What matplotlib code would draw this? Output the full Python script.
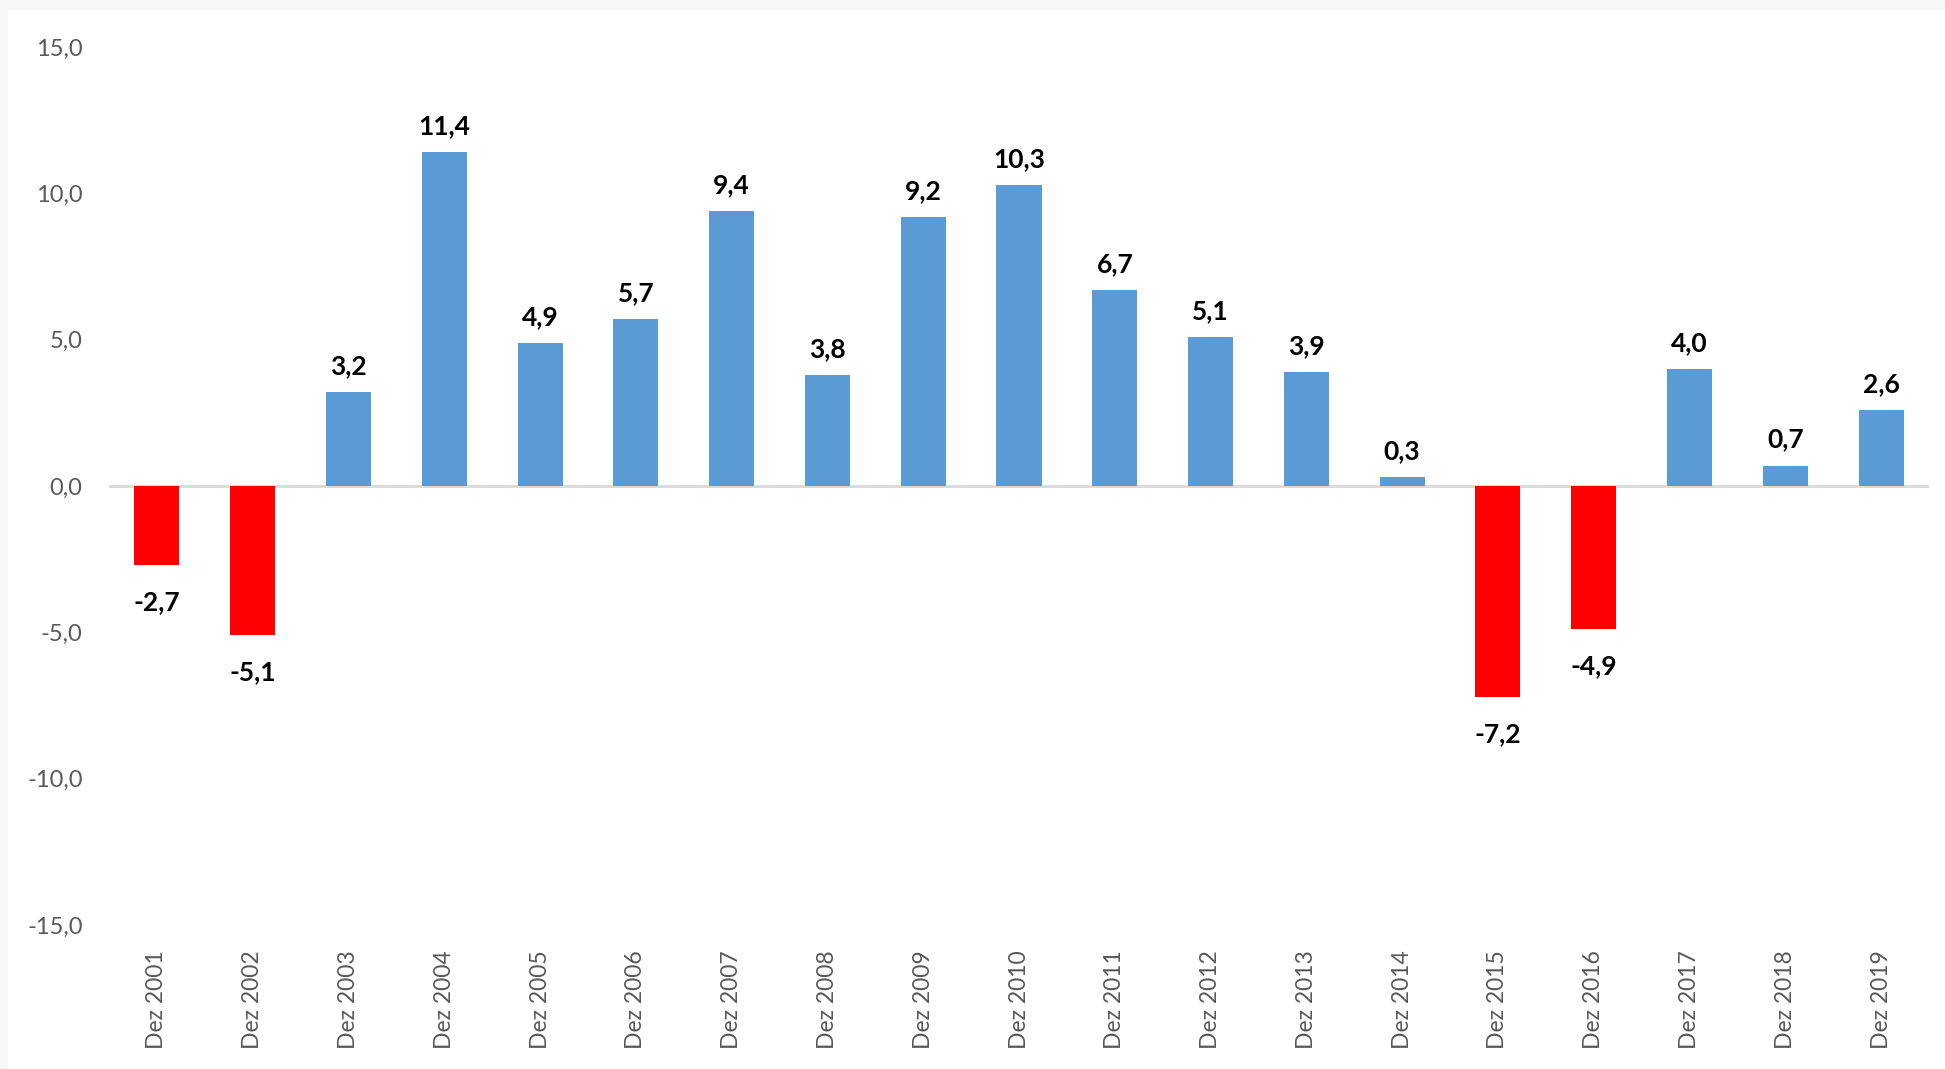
import matplotlib.pyplot as plt
from matplotlib.patches import Rectangle
from matplotlib.ticker import FuncFormatter

# Variação anual (%) - dezembro de cada ano
anos = ["Dez 2001", "Dez 2002", "Dez 2003", "Dez 2004", "Dez 2005", "Dez 2006",
        "Dez 2007", "Dez 2008", "Dez 2009", "Dez 2010", "Dez 2011", "Dez 2012",
        "Dez 2013", "Dez 2014", "Dez 2015", "Dez 2016", "Dez 2017", "Dez 2018",
        "Dez 2019"]
valores = [-2.7, -5.1, 3.2, 11.4, 4.9, 5.7, 9.4, 3.8, 9.2, 10.3, 6.7, 5.1,
           3.9, 0.3, -7.2, -4.9, 4.0, 0.7, 2.6]
yticks = [-15, -10, -5, 0, 5, 10, 15]

AZUL = "#5b9bd5"
VERMELHO = "#ff0000"
CINZA = "#595959"

plt.rcParams["font.family"] = ["Lato", "DejaVu Sans"]


def virgula(v, pos=None):
    return f"{v:.1f}".replace(".", ",")


fig = plt.figure(figsize=(19.45, 10.69), dpi=100, facecolor="#f7f7f7")
fig.patches.append(Rectangle((8 / 1945, 0), 1, 1 - 10 / 1069,
                             transform=fig.transFigure, facecolor="white",
                             edgecolor="none", zorder=-1))

ax = fig.add_axes([109 / 1945, 1 - 925 / 1069, 1820 / 1945, 878 / 1069])
ax.set_facecolor("white")

x = range(len(anos))
cores = [VERMELHO if v < 0 else AZUL for v in valores]
ax.bar(x, valores, width=0.47, color=cores, zorder=2)

# Rótulos de dados
for i, v in enumerate(valores):
    if v >= 0:
        ax.annotate(virgula(v), (i, v), xytext=(0, 10), textcoords="offset points",
                    ha="center", va="bottom", fontsize=19, fontweight="bold",
                    color="black")
    else:
        ax.annotate(virgula(v), (i, v), xytext=(0, -18), textcoords="offset points",
                    ha="center", va="top", fontsize=19, fontweight="bold",
                    color="black")

ax.axhline(0, color="#d9d9d9", linewidth=2, zorder=1)

ax.set_xlim(-0.5, len(anos) - 0.5)
ax.set_ylim(-15, 15)
ax.set_yticks(yticks)
ax.yaxis.set_major_formatter(FuncFormatter(virgula))
ax.set_xticks(list(x))
ax.set_xticklabels(anos, rotation=90)

ax.tick_params(axis="y", length=0, pad=19, labelsize=17, labelcolor=CINZA)
ax.tick_params(axis="x", length=0, pad=18, labelsize=16.5, labelcolor=CINZA)
for s in ax.spines.values():
    s.set_visible(False)

fig.savefig("out.png", dpi=100, facecolor=fig.get_facecolor())
